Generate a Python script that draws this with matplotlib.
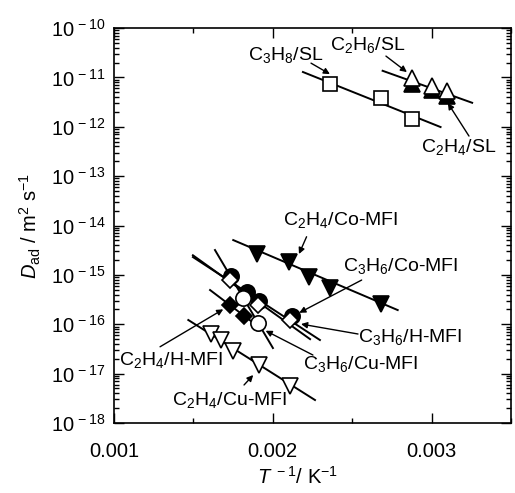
import numpy as np
import matplotlib

matplotlib.use("Agg")
import matplotlib.pyplot as plt
from matplotlib.ticker import FixedLocator, FuncFormatter, LogLocator, NullFormatter, MultipleLocator

plt.rcParams["font.family"] = ["Liberation Sans", "DejaVu Sans"]
plt.rcParams["mathtext.fontset"] = "custom"
plt.rcParams["mathtext.rm"] = "Liberation Sans"
plt.rcParams["mathtext.it"] = "Liberation Sans:italic"
plt.rcParams["mathtext.bf"] = "Liberation Sans:bold"

# ---- data: x = 1/T (1/K), y = D_ad (m^2/s) ----
c3h8_sl_x = [0.002360, 0.002681, 0.002875]
c3h8_sl_y = [7.35e-12, 3.82e-12, 1.44e-12]
c3h8_sl_fit_x = [0.00219, 0.003057]
c3h8_sl_fit_y = [1.29e-11, 9.9e-13]

c2h6_sl_x = [0.002879, 0.003001, 0.003095]
c2h6_sl_y = [9.7e-12, 6.75e-12, 5.35e-12]
c2h4_sl_x = [0.002879, 0.003001, 0.003095]
c2h4_sl_y = [7.45e-12, 5.63e-12, 4.14e-12]
sl_c2_fit_x = [0.002692, 0.003256]
sl_c2_fit_y = [1.365e-11, 3.07e-12]

c2h4_co_x = [0.0019005, 0.002102, 0.00223, 0.00236, 0.002681]
c2h4_co_y = [2.67e-15, 1.80e-15, 8.95e-16, 5.55e-16, 2.61e-16]
c2h4_co_fit_x = [0.001751, 0.002787]
c2h4_co_fit_y = [5.08e-15, 1.94e-16]

c3h6_co_x = [0.001737, 0.001836, 0.001915, 0.002119]
c3h6_co_y = [9.48e-16, 4.56e-16, 2.96e-16, 1.47e-16]
c3h6_co_fit_x = [0.001497, 0.002235]
c3h6_co_fit_y = [2.5e-15, 5.0e-17]

c3h6_h_x = [0.00173, 0.001909, 0.002108]
c3h6_h_y = [7.87e-16, 2.45e-16, 1.22e-16]
c3h6_h_fit_x = [0.001497, 0.002297]
c3h6_h_fit_y = [2.3e-15, 4.8e-17]

c3h6_cu_x = [0.001814, 0.001909]
c3h6_cu_y = [3.36e-16, 1.08e-16]
c3h6_cu_fit_x = [0.001636, 0.002001]
c3h6_cu_fit_y = [3.19e-15, 3.3e-17]

c2h4_h_x = [0.00173, 0.00182]
c2h4_h_y = [2.45e-16, 1.47e-16]
c2h4_h_fit_x = [0.001605, 0.001888]
c2h4_h_fit_y = [4.94e-16, 1.01e-16]

c2h4_cu_x = [0.001608, 0.001674, 0.001749, 0.001913, 0.002111]
c2h4_cu_y = [6.5e-17, 4.91e-17, 2.94e-17, 1.5e-17, 5.6e-18]
c2h4_cu_fit_x = [0.001468, 0.002266]
c2h4_cu_fit_y = [1.22e-16, 2.92e-18]

# labels: text, text position, arrow tail, arrow head
label_texts = [
    r"C$_3$H$_8$/SL", r"C$_2$H$_6$/SL", r"C$_2$H$_4$/SL",
    r"C$_2$H$_4$/Co-MFI", r"C$_3$H$_6$/Co-MFI", r"C$_3$H$_6$/H-MFI",
    r"C$_3$H$_6$/Cu-MFI", r"C$_2$H$_4$/H-MFI", r"C$_2$H$_4$/Cu-MFI",
]
label_pos = [
    (0.002083, 2.84e-11), (0.002596, 4.53e-11), (0.003173, 3.89e-13),
    (0.002426, 1.29e-14), (0.002804, 1.51e-15), (0.002867, 5.6e-17),
    (0.002552, 1.57e-17), (0.001362, 1.89e-17), (0.00173, 2.92e-18),
]
arrow_tail = [
    (0.002241, 1.95e-11), (0.002713, 2.71e-11), (0.003236, 6.5e-13),
    (0.002213, 5.93e-15), (0.00256, 7.87e-16), (0.002537, 6.35e-17),
    (0.002253, 2.38e-17), (0.00129, 3.5e-17), (0.001819, 5.89e-18),
]
arrow_head = [
    (0.00236, 1.17e-11), (0.002845, 1.285e-11), (0.003103, 3.03e-12),
    (0.002165, 2.65e-15), (0.002167, 1.71e-16), (0.002178, 1.01e-16),
    (0.001955, 7.4e-17), (0.001688, 2.01e-16), (0.001877, 9.37e-18),
]

fig = plt.figure(figsize=(5.15, 4.93), dpi=100)
ax = fig.add_axes([0.2214, 0.142, 0.7706, 0.801])

lk = dict(color="black", linewidth=1.4, zorder=2)
for fx, fy in [
    (c3h8_sl_fit_x, c3h8_sl_fit_y),
    (sl_c2_fit_x, sl_c2_fit_y),
    (c2h4_co_fit_x, c2h4_co_fit_y),
    (c3h6_co_fit_x, c3h6_co_fit_y),
    (c3h6_h_fit_x, c3h6_h_fit_y),
    (c3h6_cu_fit_x, c3h6_cu_fit_y),
    (c2h4_h_fit_x, c2h4_h_fit_y),
    (c2h4_cu_fit_x, c2h4_cu_fit_y),
]:
    ax.plot(fx, fy, "-", **lk)

mk_open = dict(linestyle="none", markerfacecolor="white", markeredgecolor="black", markeredgewidth=1.2, zorder=3)
mk_fill = dict(linestyle="none", markerfacecolor="black", markeredgecolor="black", markeredgewidth=1.2, zorder=3)

ax.plot(c3h8_sl_x, c3h8_sl_y, "s", markersize=10, **mk_open)
ax.plot(c2h4_sl_x, c2h4_sl_y, "^", markersize=11, **mk_fill)
ax.plot(c2h6_sl_x, c2h6_sl_y, "^", markersize=11, **mk_open)
ax.plot(c2h4_co_x, c2h4_co_y, "v", markersize=11, **mk_fill)
ax.plot(c3h6_co_x, c3h6_co_y, "o", markersize=11, **mk_fill)
ax.plot(c2h4_h_x, c2h4_h_y, "D", markersize=8, **mk_fill)
ax.plot(c3h6_h_x, c3h6_h_y, "D", markersize=8, **mk_open)
ax.plot(c3h6_cu_x, c3h6_cu_y, "o", markersize=11, **mk_open)
ax.plot(c2h4_cu_x, c2h4_cu_y, "v", markersize=11, **mk_open)

for txt, pos, tail, head in zip(label_texts, label_pos, arrow_tail, arrow_head):
    ax.text(pos[0], pos[1], txt, fontsize=14, ha="center", va="center", zorder=5)
    ax.annotate("", xy=head, xytext=tail,
                arrowprops=dict(arrowstyle="-|>", color="black", lw=1.0,
                                mutation_scale=9, shrinkA=0, shrinkB=0),
                zorder=5)

ax.set_yscale("log")
ax.set_xlim(0.001, 0.0035)
ax.set_ylim(1e-18, 1e-10)

ax.xaxis.set_major_locator(FixedLocator([0.001, 0.002, 0.003]))
ax.xaxis.set_minor_locator(MultipleLocator(0.0005))
ax.xaxis.set_major_formatter(FuncFormatter(lambda v, p: "%.3f" % v))
ax.yaxis.set_major_locator(LogLocator(base=10.0, numticks=20))
ax.yaxis.set_minor_locator(LogLocator(base=10.0, subs=np.arange(2, 10), numticks=20))
ax.yaxis.set_minor_formatter(NullFormatter())
ax.yaxis.set_major_formatter(FuncFormatter(lambda v, p: r"10$^{\,%d}$" % int(round(np.log10(v)))))

ax.tick_params(which="both", direction="in", top=True, right=True, width=1.0)
ax.tick_params(which="major", length=7)
ax.tick_params(which="minor", length=3.5)
ax.tick_params(axis="y", pad=6, labelsize=14.5)
ax.tick_params(axis="x", pad=14, labelsize=14.5)
for s in ax.spines.values():
    s.set_linewidth(1.2)

ax.set_xlabel(r"$T^{\ -1}$/ K$^{-1}$", fontsize=14.5)
ax.xaxis.set_label_coords(0.463, -0.108)
ax.set_ylabel(r"$D_{\rm ad}$ / m$^2$ s$^{-1}$", fontsize=14.5, labelpad=6)

fig.savefig("out.png", dpi=100)
